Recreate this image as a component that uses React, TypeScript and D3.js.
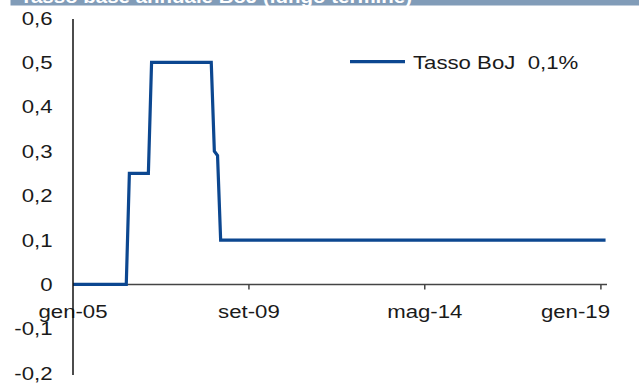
import React from "react";
import * as d3 from "d3";

const seriesName = "Tasso BoJ  0,1%";
const titleText = "Tasso base annuale BoJ (lungo termine)";
const rateDates = ["2005-01-01", "2006-06-01", "2006-07-01", "2007-01-01", "2007-02-01", "2008-09-01", "2008-10-01", "2008-11-01", "2008-12-01", "2019-02-15"];
const rateValues = [0, 0, 0.25, 0.25, 0.5, 0.5, 0.3, 0.29, 0.1, 0.1];
const xTickDates = ["2005-01-01", "2009-09-01", "2014-05-01", "2019-01-01"];
const xTickLabels = ["gen-05", "set-09", "mag-14", "gen-19"];
const yTickValues = [0.6, 0.5, 0.4, 0.3, 0.2, 0.1, 0, -0.1, -0.2];
const yTickLabels = ["0,6", "0,5", "0,4", "0,3", "0,2", "0,1", "0", "-0,1", "-0,2"];

const W = 639;
const H = 383;
const FONT = "'Liberation Sans', Arial, sans-serif";
const FS = 18.5;
const SX = 1.2;
const BLUE = "#0c4790";

export default function App() {
  const parse = d3.utcParse("%Y-%m-%d");
  const x = d3
    .scaleUtc()
    .domain([parse("2005-01-01")!, parse("2019-03-01")!])
    .range([73, 607]);
  const y = d3.scaleLinear().domain([-0.2, 0.6]).range([373.3, 17.9]);

  const pts = rateDates.map((d, i) => [parse(d)!, rateValues[i]] as [Date, number]);
  const line = d3
    .line<[Date, number]>()
    .x((d) => x(d[0]))
    .y((d) => y(d[1]));

  const y0 = y(0);
  const xEnd = x.range()[1];

  return (
    <svg
      width={W}
      height={H}
      style={{ position: "absolute", left: 0, top: 0, background: "#fff" }}
      fontFamily={FONT}
    >
      {/* title band (cut off, as in the reference) */}
      <rect x={10.5} y={-20} width={W} height={25.5} fill="#819cb8" />
      <text
        x={20}
        y={3}
        fill="#fff"
        fontWeight="bold"
        fontSize={18}
        textLength={392}
        lengthAdjust="spacingAndGlyphs"
      >
        {titleText}
      </text>

      {/* x axis */}
      <line x1={73} x2={xEnd} y1={y0} y2={y0} stroke="#444" strokeWidth={1.5} />
      {xTickDates.map((d, i) => {
        const xx = x(parse(d)!);
        const last = i === xTickDates.length - 1;
        return (
          <g key={d}>
            {i > 0 && <line x1={xx} x2={xx} y1={y0} y2={y0 + 5} stroke="#444" strokeWidth={1.5} />}
            <text
              transform={`translate(${last ? xEnd + 3 : xx},317.5) scale(${SX},1)`}
              textAnchor={last ? "end" : "middle"}
              fontSize={FS}
              fill="#1a1a1a"
            >
              {xTickLabels[i]}
            </text>
          </g>
        );
      })}

      {/* series line */}
      <path d={line(pts) || ""} fill="none" stroke={BLUE} strokeWidth={3.2} strokeLinejoin="miter" />

      {/* y axis */}
      <line x1={73} x2={73} y1={19} y2={375} stroke="#111" strokeWidth={1.5} />
      {yTickValues.map((v, i) => (
        <text
          key={v}
          transform={`translate(52.5,${y(v) + 6.6}) scale(${SX},1)`}
          textAnchor="end"
          fontSize={FS}
          fill="#1a1a1a"
        >
          {yTickLabels[i]}
        </text>
      ))}

      {/* legend */}
      <line x1={350} x2={405} y1={61.7} y2={61.7} stroke={BLUE} strokeWidth={3.2} />
      <text transform={`translate(413,69) scale(${SX},1)`} fontSize={FS} fill="#1a1a1a" style={{ whiteSpace: "pre" }}>
        {seriesName}
      </text>
    </svg>
  );
}
